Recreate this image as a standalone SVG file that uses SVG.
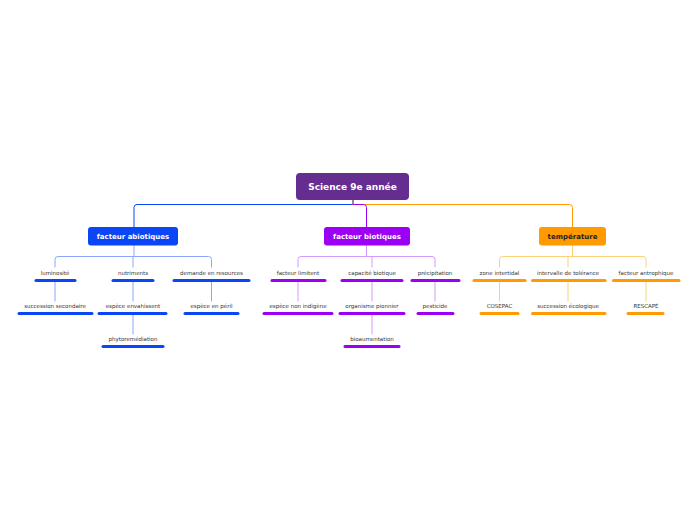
<svg xmlns="http://www.w3.org/2000/svg" width="697" height="520" viewBox="0 0 697 520">
<style>
.bg{fill:#ffffff}
.t0{font-family:"DejaVu Sans",sans-serif;font-weight:bold;font-size:9px;fill:#ffffff;text-anchor:middle}
.t1{font-family:"DejaVu Sans",sans-serif;font-weight:bold;font-size:7px;fill:#ffffff;text-anchor:middle}
.t1d{font-family:"DejaVu Sans",sans-serif;font-weight:bold;font-size:7px;fill:#222222;text-anchor:middle}
.t2{font-family:"DejaVu Sans",sans-serif;font-size:5.5px;fill:#333333;text-anchor:middle}
.c{fill:none;stroke-width:1;stroke-linecap:round}
.u{fill:none;stroke-width:3;stroke-linecap:round}
.bl{stroke:#0a46f5}.blL{stroke:#8aa6ff}
.pu{stroke:#9b00f5}.puL{stroke:#d49aff}
.or{stroke:#ff9a00}.orL{stroke:#ffd07a}
</style>
<rect class="bg" x="0" y="0" width="697" height="520"/>
<g id="connectors">
<path class="c bl" d="M353,200 V204.5 H137 Q134,204.5 134,207.5 V227"/>
<path class="c or" d="M353,204.5 H569.5 Q572.5,204.5 572.5,207.5 V227"/>
<path class="c pu" d="M353,204.5 H363.5 Q366.5,204.5 366.5,207.5 V227"/>
<path class="c" stroke="#b5603f" d="M353,200 V204"/>
<path class="c blL" d="M134,245 V256.5 M55,267 V259.5 Q55,256.5 58,256.5 H208.5 Q211.5,256.5 211.5,259.5 V267 M133,256.5 V267"/>
<path class="c blL" d="M55,282 V301 M133,282 V301 M211.5,282 V301 M133,315 V334"/>
<path class="c puL" d="M366.5,245 V256.5 M298,267 V259.5 Q298,256.5 301,256.5 H432 Q435,256.5 435,259.5 V267 M372,256.5 V267"/>
<path class="c puL" d="M298,282 V301 M372,282 V301 M435,282 V301 M372,315 V334"/>
<path class="c orL" d="M572.5,245 V256.5 M499.5,267 V259.5 Q499.5,256.5 502.5,256.5 H643 Q646,256.5 646,259.5 V267 M568,256.5 V267"/>
<path class="c orL" d="M499.5,282 V301 M568,282 V301 M646,282 V301"/>
</g>
<g id="root">
<rect x="296" y="173" width="113" height="27" rx="4" fill="#662d91"/>
<text class="t0" x="352.5" y="190">Science 9e année</text>
</g>
<g id="n-abiotiques">
<rect x="88" y="227" width="90" height="18.5" rx="3" fill="#0a46f5"/>
<text class="t1" x="133" y="238.8">facteur abiotiques</text>
</g>
<g id="n-biotiques">
<rect x="324" y="227" width="86" height="18.5" rx="3" fill="#9b00f5"/>
<text class="t1" x="367" y="238.8">facteur biotiques</text>
</g>
<g id="n-temperature">
<rect x="539" y="227" width="67" height="18.5" rx="3" fill="#ff9a00"/>
<text class="t1d" x="572.5" y="238.8">température</text>
</g>
<g id="n-luminosite"><text class="t2" x="55" y="275">luminosité</text><path class="u bl" d="M36,280.5 H75"/></g>
<g id="n-nutriments"><text class="t2" x="133" y="275">nutriments</text><path class="u bl" d="M113,280.5 H153"/></g>
<g id="n-demande"><text class="t2" x="211.5" y="275">demande en resources</text><path class="u bl" d="M174,280.5 H249"/></g>
<g id="n-succession-sec"><text class="t2" x="55" y="308">succession secondaire</text><path class="u bl" d="M19,313.5 H92"/></g>
<g id="n-envahissent"><text class="t2" x="133" y="308">espèce envahissent</text><path class="u bl" d="M99,313.5 H166"/></g>
<g id="n-peril"><text class="t2" x="211.5" y="308">espèce en péril</text><path class="u bl" d="M185,313.5 H238"/></g>
<g id="n-phyto"><text class="t2" x="133" y="341">phytoremédiation</text><path class="u bl" d="M103,346.5 H163"/></g>
<g id="n-limitent"><text class="t2" x="298" y="275">facteur limitent</text><path class="u pu" d="M272,280.5 H325"/></g>
<g id="n-capacite"><text class="t2" x="372" y="275">capacité biotique</text><path class="u pu" d="M342,280.5 H402"/></g>
<g id="n-precipitation"><text class="t2" x="435" y="275">précipitation</text><path class="u pu" d="M412,280.5 H459"/></g>
<g id="n-nonindigene"><text class="t2" x="298" y="308">espèce non indigène</text><path class="u pu" d="M264,313.5 H332"/></g>
<g id="n-pionnier"><text class="t2" x="372" y="308">organisme pionnier</text><path class="u pu" d="M340,313.5 H404"/></g>
<g id="n-pesticide"><text class="t2" x="435" y="308">pesticide</text><path class="u pu" d="M418,313.5 H453"/></g>
<g id="n-bioaumentation"><text class="t2" x="372" y="341">bioaumentation</text><path class="u pu" d="M345,346.5 H399"/></g>
<g id="n-intertidal"><text class="t2" x="499.5" y="275">zone intertidal</text><path class="u or" d="M474,280.5 H525"/></g>
<g id="n-tolerance"><text class="t2" x="568" y="275">intervalle de tolérance</text><path class="u or" d="M532.5,280.5 H605"/></g>
<g id="n-antrophique"><text class="t2" x="646" y="275">facteur antrophique</text><path class="u or" d="M613.5,280.5 H679"/></g>
<g id="n-cosepac"><text class="t2" x="499.5" y="308">COSEPAC</text><path class="u or" d="M481,313.5 H518"/></g>
<g id="n-succession-eco"><text class="t2" x="568" y="308">succession écologique</text><path class="u or" d="M532.5,313.5 H605"/></g>
<g id="n-rescape"><text class="t2" x="646" y="308">RESCAPÉ</text><path class="u or" d="M628,313.5 H663"/></g>
</svg>
